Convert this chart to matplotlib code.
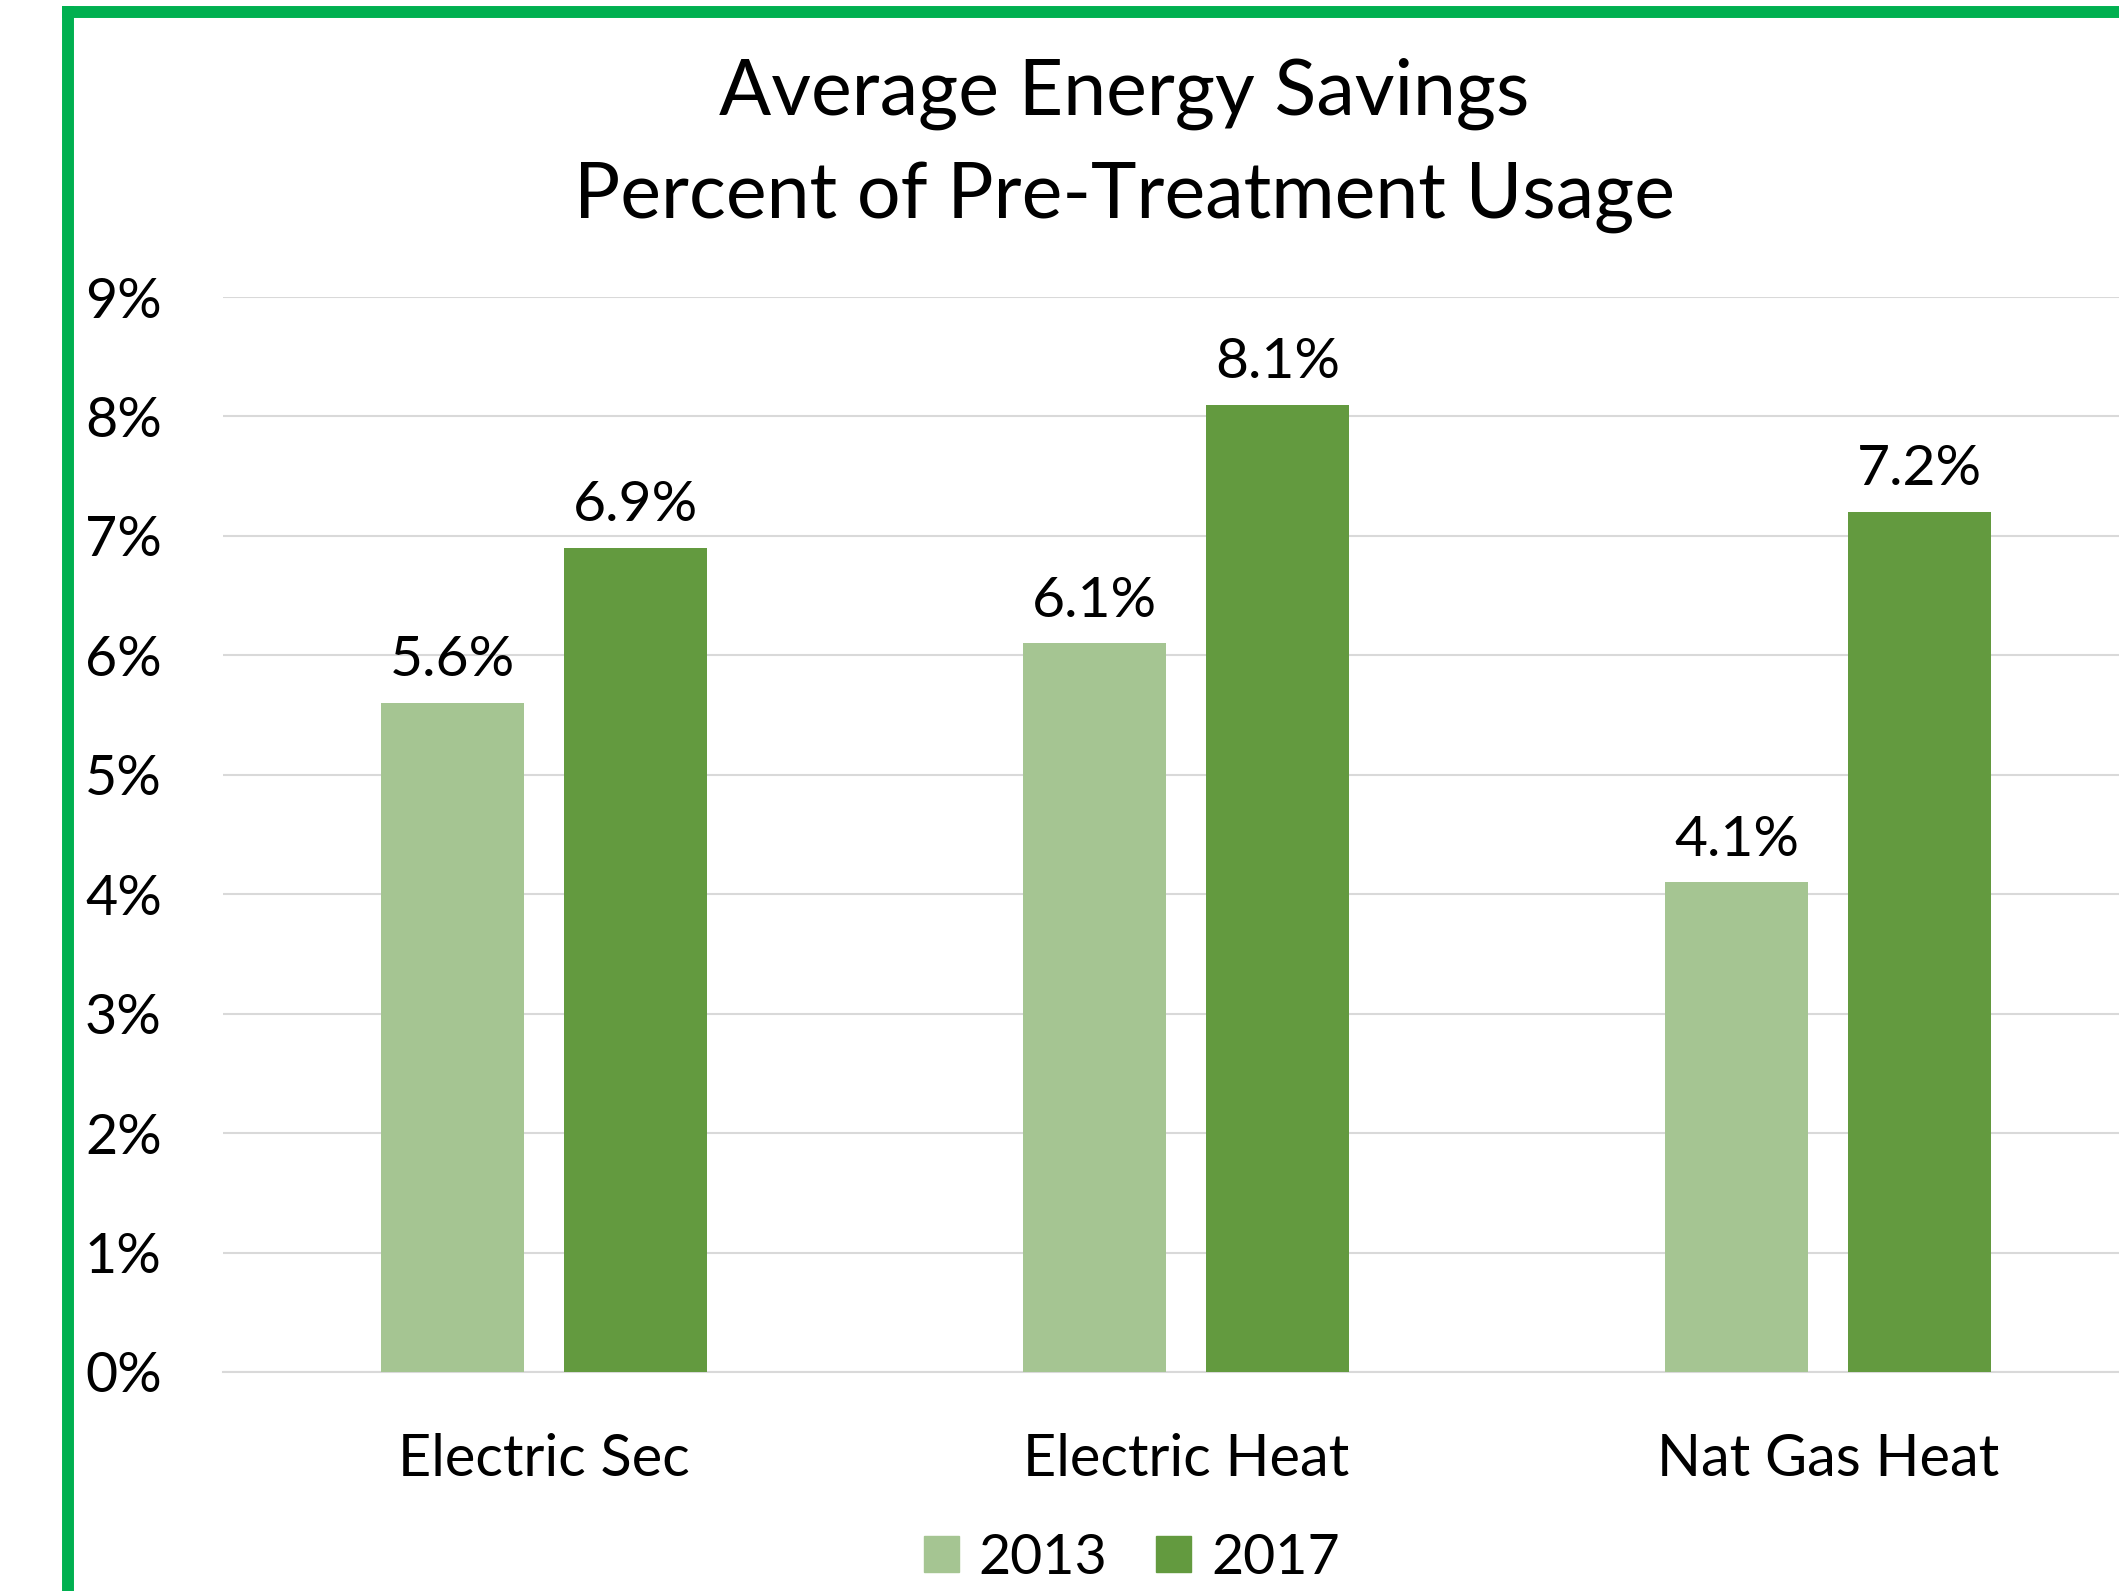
import matplotlib.pyplot as plt
import numpy as np
from matplotlib.lines import Line2D
from matplotlib.patches import Patch

# Data
categories = ['Electric Sec', 'Electric Heat', 'Nat Gas Heat']
years = ['2013', '2017']
savings_2013 = [5.6, 6.1, 4.1]
savings_2017 = [6.9, 8.1, 7.2]
yticks = [0, 1, 2, 3, 4, 5, 6, 7, 8, 9]

colors = ['#A5C592', '#639A3F']
grid_color = '#D9D9D9'
border_color = '#00B050'

plt.rcParams['font.family'] = ['Lato', 'DejaVu Sans']

W, H = 2119, 1591
fig = plt.figure(figsize=(W / 100, H / 100), dpi=100)

# axes spans past the right edge like the original
ax_left, ax_right = 223, 223 + 3 * 642
ax_bottom, ax_top = 1372, 297
ax = fig.add_axes([ax_left / W, 1 - ax_bottom / H,
                   (ax_right - ax_left) / W, (ax_bottom - ax_top) / H])

x = np.arange(len(categories))
width = 0.223
offset = 0.1425

bars1 = ax.bar(x - offset, savings_2013, width, color=colors[0], zorder=3)
bars2 = ax.bar(x + offset, savings_2017, width, color=colors[1], zorder=3)

for bars in (bars1, bars2):
    ax.bar_label(bars, labels=[f'{v:.1f}%' for v in bars.datavalues],
                 padding=12, fontsize=41, color='black')

ax.set_xlim(-0.5, 2.5)
ax.set_ylim(0, 9)
ax.set_yticks(yticks)
ax.set_yticklabels([f'{t}%' for t in yticks], fontsize=40)
ax.set_xticks(x)
ax.set_xticklabels(categories, fontsize=41.5)
ax.tick_params(axis='both', length=0)
ax.tick_params(axis='y', pad=44)
ax.tick_params(axis='x', pad=44)

ax.grid(axis='y', color=grid_color, linewidth=1.5, zorder=0)
for side in ['top', 'right', 'left']:
    ax.spines[side].set_visible(False)
ax.spines['bottom'].set_color(grid_color)
ax.spines['bottom'].set_linewidth(1.5)

# Title
fig.text(1124 / W, 1 - 94 / H, 'Average Energy Savings', ha='center', va='center', fontsize=55.5)
fig.text(1124 / W, 1 - 197 / H, 'Percent of Pre-Treatment Usage', ha='center', va='center', fontsize=55.5)

# Legend
handles = [Patch(color=colors[0], label=years[0]), Patch(color=colors[1], label=years[1])]
fig.legend(handles=handles, loc='center', bbox_to_anchor=(1132 / W, 1 - 1558 / H),
           ncol=2, frameon=False, fontsize=40, handlelength=0.62, handleheight=0.62,
           handletextpad=0.36, columnspacing=0.88)

# Green frame on top and left
fig.add_artist(Line2D([62 / W, 1], [1 - 12 / H, 1 - 12 / H], color=border_color,
                      linewidth=8.6, transform=fig.transFigure, solid_capstyle='butt'))
fig.add_artist(Line2D([68 / W, 68 / W], [1 - 6 / H, 0], color=border_color,
                      linewidth=8.6, transform=fig.transFigure, solid_capstyle='butt'))

plt.savefig('out.png', dpi=100)
